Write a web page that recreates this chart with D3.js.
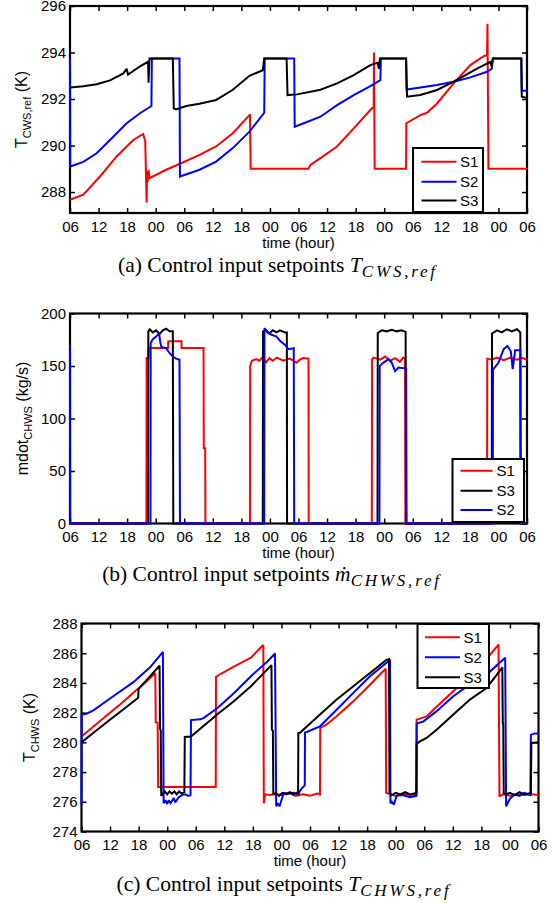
<!DOCTYPE html>
<html>
<head>
<meta charset="utf-8">
<script src="https://cdn.jsdelivr.net/npm/d3@7"></script>
<style>
  body { margin: 0; background: #fff; }
  svg text { font-family: "Liberation Sans", Arial, Helvetica, sans-serif; }
  svg text.cap { font-family: "Liberation Serif", "Times New Roman", serif; }
</style>
</head>
<body>
<svg id="fig" width="553" height="903"></svg>
<script>
// hours since 06:00 on day 1, and the clock labels matlab printed
const tickHours = [0, 6, 12, 18, 24, 30, 36, 42, 48, 54, 60, 66, 72, 78, 84, 90, 96];
const tickLabels = ['06','12','18','00','06','12','18','00','06','12','18','00','06','12','18','00','06'];

const cwsTicks = [288, 290, 292, 294, 296];
const mdotTicks = [0, 50, 100, 150, 200];
const chwsTicks = [274, 276, 278, 280, 282, 284, 286, 288];

// (a) T_CWS,ref  [hour, K]
const cwsS1 = [[0,287.67],[2.8,287.89],[6.3,288.67],[9.8,289.53],[13.3,290.24],[15.35,290.5],[15.8,290.2],[16.0,288.4],
  [16.1,287.55],[16.2,288.9],[16.35,288.45],[16.5,288.95],[16.7,288.6],[20.2,288.96],[23.7,289.27],[27.2,289.6],
  [30.7,289.96],[34.2,290.53],[37.7,291.31],[37.8,291.35],[37.95,289.0],[50.1,289.0],[50.5,289.17],[52.6,289.46],
  [56.1,289.96],[59.6,290.74],[63.1,291.53],[63.8,291.67],[63.85,294.0],[64.0,289.0],[70.6,289.0],[70.65,290.96],
  [73.6,291.31],[75.0,291.41],[77.1,291.81],[80.6,292.67],[84.1,293.46],[86.9,293.84],[87.6,293.89],[87.7,295.24],
  [87.9,289.0],[96,289.0]];
const cwsS2 = [[0,293.74],[0.05,289.1],[2.8,289.3],[5.6,289.67],[8.4,290.24],[11.9,290.96],[14.7,291.39],[17.1,291.7],
  [17.2,293.74],[23.0,293.74],[23.1,288.67],[27.2,288.96],[30.7,289.31],[34.2,289.89],[37.7,290.6],[40.8,291.41],
  [40.9,293.74],[47.1,293.74],[47.2,290.81],[49.1,290.96],[52.6,291.24],[56.1,291.74],[59.6,292.17],[63.1,292.56],
  [65.2,292.81],[65.3,293.74],[70.6,293.74],[70.7,292.41],[73.6,292.5],[77.1,292.6],[80.6,292.74],[84.1,292.93],
  [87.6,293.17],[88.6,293.31],[88.8,293.74],[94.8,293.74],[94.9,292.36],[96,292.36]];
const cwsS3 = [[0,292.5],[2.8,292.55],[5.6,292.64],[8.4,292.8],[11.2,293.1],[11.9,293.3],[12.2,293.05],[12.9,293.15],
  [14.7,293.4],[16.4,293.6],[16.5,292.7],[16.7,293.74],[21.6,293.74],[21.8,291.6],[22.3,291.55],[24.4,291.7],
  [27.2,291.8],[30.7,291.96],[34.2,292.4],[37.7,293.0],[40.5,293.24],[40.8,293.74],[45.5,293.74],[45.7,292.17],
  [47.7,292.2],[52.6,292.4],[56.1,292.67],[59.6,293.03],[63.1,293.46],[64.6,293.56],[64.9,293.3],[65.1,293.74],
  [70.6,293.74],[70.8,292.1],[73.6,292.17],[77.1,292.39],[79.9,292.67],[82.7,292.99],[85.5,293.31],[88.3,293.6],
  [88.6,293.4],[88.85,293.74],[94.8,293.74],[94.9,292.1],[96,292.05]];

// (b) mdot_CHWS  [hour, kg/s]
const mS1 = [[0,0],[16.05,0],[16.1,157.7],[16.5,157.7],[16.55,167.2],[20.6,167.2],[20.65,173.6],[23.4,173.6],
  [23.45,167.2],[28.05,167.2],[28.1,71.7],[28.4,71.7],[28.45,0],[37.8,0],[37.85,149.7],[38.2,155],[39.1,156.5],
  [39.8,155],[40.5,158.5],[41.2,153.5],[41.9,157.5],[42.6,155],[43.4,158],[44.8,155],[46.2,157],[47.6,153],
  [48.3,156],[49.0,157.5],[50.1,157],[50.15,0],[63.4,0],[63.45,156],[63.8,158],[65.2,156],[66.2,159],[67.3,155],
  [68.3,157.5],[69.3,154],[70.0,158],[70.4,157],[70.45,0],[87.6,0],[87.65,157],[88.6,156],[89.7,158],[91.1,155.5],
  [92.5,158],[93.9,156],[95.0,157.5],[96,156]];
const mS3 = [[0,0],[16.4,0],[16.45,183],[16.75,185],[17.4,182],[18.1,184],[18.8,180.5],[19.5,184],[20.2,185.5],
  [20.9,183],[21.6,183],[21.7,0],[40.5,0],[40.55,183],[41.2,184],[41.9,181],[42.6,184],[43.4,182],[44.1,184],
  [45.2,182],[45.55,182],[45.6,0],[64.6,0],[64.65,181.5],[65.5,184],[66.5,183],[67.6,184.5],[68.6,183],[69.6,184],
  [70.5,182.5],[70.6,0],[88.6,0],[88.65,181],[89.7,184],[90.7,182],[91.8,185],[92.8,183],[93.9,185],[94.6,182],
  [94.65,0],[96,0]];
const mS2 = [[0,170],[0.05,0],[16.9,0],[16.95,172],[17.4,175.5],[18.1,178],[18.7,181],[19.0,172],[19.2,168],
  [20.2,167],[20.9,162.5],[21.6,159],[22.3,157],[23.0,156],[23.1,0],[40.8,0],[40.85,186],[41.5,182],[42.2,180],
  [43.4,178],[44.1,174],[45.2,170],[45.9,166],[47.0,167],[47.1,0],[65.0,0],[65.05,150],[65.8,153],[66.9,156.5],
  [67.6,153],[68.3,145],[69.0,148.5],[70.6,147.5],[70.7,0],[88.8,0],[88.85,146.5],[90.0,153],[91.1,166],[91.9,169],
  [92.6,164],[93.0,147],[93.5,165],[94.6,165],[94.7,0],[96,0]];

// (c) T_CHWS  [hour, K]
const cS1 = [[0,280.4],[2.45,281.05],[8.4,282.63],[11.5,283.5],[13.3,284.0],[15.5,284.67],[15.6,281.35],[16.0,281.3],
  [16.1,277.0],[28.2,277.0],[28.25,284.4],[29.2,284.6],[32.0,285.1],[35.6,285.7],[38.0,286.5],[38.2,286.55],
  [38.3,275.9],[38.6,276.5],[39.5,276.45],[40.5,276.5],[42.0,276.45],[43.5,276.6],[45.0,276.4],[46.5,276.5],
  [48.0,276.4],[49.5,276.55],[50.1,276.5],[50.15,280.97],[51.5,281.2],[53.6,281.75],[57.1,282.76],[60.6,283.88],
  [63.4,284.8],[63.9,284.95],[64.0,276.6],[64.5,276.55],[66,276.4],[67.5,276.55],[69,276.45],[70.35,276.5],
  [70.4,281.53],[72.5,281.75],[74.6,282.4],[78.1,283.44],[81.6,284.5],[85.1,285.6],[87.25,286.45],[87.6,286.58],
  [87.8,276.36],[88.5,276.5],[90,276.4],[91.5,276.5],[93,276.45],[94.5,276.5],[96,276.45]];
const cS2 = [[0,275.8],[0.05,281.87],[1.05,281.93],[2.5,282.15],[6.0,282.95],[10.9,284.05],[14.4,285.05],[16.9,286.0],
  [17.1,286.1],[17.25,275.9],[17.6,276.1],[18.0,275.85],[18.3,276.1],[18.7,275.9],[19.4,276.25],[19.7,275.95],
  [20.4,276.3],[21.1,276.45],[21.8,276.5],[22.5,276.4],[22.9,276.45],[23.0,281.5],[25.0,281.55],[25.7,281.65],
  [28.5,282.3],[32.0,283.3],[35.6,284.45],[39.1,285.46],[40.65,285.98],[40.9,275.7],[41.2,275.9],[41.6,275.7],
  [42.0,276.1],[42.5,276.6],[43.5,276.55],[44.5,276.6],[45.5,276.5],[46.25,276.9],[46.9,277.1],[46.95,280.67],
  [47.3,280.7],[50.1,281.08],[53.6,282.2],[57.1,283.33],[60.6,284.45],[64.5,285.46],[64.8,285.5],[64.9,275.9],
  [65.2,276.0],[65.6,275.8],[66.2,276.4],[67.5,276.45],[69,276.3],[70.35,276.4],[70.4,281.26],[71.8,281.4],
  [74.6,282.1],[78.1,283.1],[81.6,283.9],[85.1,284.56],[89.0,285.7],[89.2,275.7],[89.5,275.9],[90,276.2],[91,276.5],
  [92,276.4],[93,276.6],[94.3,276.45],[94.4,280.5],[95.2,280.6],[96,280.6]];
const cS3 = [[0,280.0],[2.45,280.63],[5.5,281.4],[8.7,282.2],[11.9,283.0],[12.0,283.6],[14.0,284.3],[16.4,285.17],
  [16.5,280.9],[16.65,280.8],[16.75,276.4],[17.0,276.5],[17.5,276.7],[18.0,276.5],[18.5,276.7],[19.0,276.55],
  [19.5,276.7],[20.0,276.5],[20.5,276.7],[21.0,276.55],[21.6,276.65],[21.7,280.36],[23.0,280.4],[28.5,281.87],
  [32.0,282.76],[35.6,283.78],[39.9,285.2],[40.0,280.85],[40.2,280.8],[40.3,276.5],[40.8,276.6],[41.5,276.4],
  [42.2,276.6],[43.0,276.5],[43.8,276.65],[44.5,276.5],[45.2,276.6],[45.5,276.55],[45.55,280.63],[45.9,280.65],
  [50.1,281.87],[53.6,282.88],[57.1,283.78],[60.6,284.67],[64.1,285.57],[64.6,285.6],[64.7,276.6],[65.2,276.45],
  [66,276.6],[67,276.5],[68,276.65],[69,276.5],[70.35,276.6],[70.4,279.9],[71.0,280.05],[72.5,280.3],[74.6,280.85],
  [78.1,281.87],[81.6,282.88],[85.1,283.66],[88.3,285.0],[88.4,285.05],[88.5,281.3],[88.6,281.2],[88.7,276.6],
  [89.2,276.5],[90,276.6],[91,276.45],[92,276.65],[93,276.5],[94.4,276.6],[94.5,279.96],[96,280.0]];

const yLabels = [['T', 'CWS,ref', ' (K)'], ['mdot', 'CHWS', ' (kg/s)'], ['T', 'CHWS', ' (K)']];
const captionTags = ['a', 'b', 'c'];
const captionSyms = [['T', 'CWS,ref'], ['\u1E41', 'CHWS,ref'], ['T', 'CHWS,ref']];

const RED = '#ff0000', BLUE = '#0000ff', BLACK = '#000000';

const panels = [
  { left: 70, right: 527, top: 6, bottom: 213, yDomain: [287.1, 296], yTicks: cwsTicks,
    xPad: 8.3, xLabelY: 248, yLabelX: 27,
    series: [{ name: 'S1', data: cwsS1, color: RED }, { name: 'S2', data: cwsS2, color: BLUE }, { name: 'S3', data: cwsS3, color: BLACK }],
    legend: { x: 413, y: 148, w: 70, h: 64, x0: 421.5, x1: 456.5, tx: 460, rows: [161.7, 181.7, 200.5] },
    cap: { x: 278, y: 272 } },
  { left: 70, right: 527, top: 313.5, bottom: 523.5, yDomain: [0, 200], yTicks: mdotTicks,
    xPad: 7.5, xLabelY: 558, yLabelX: 28,
    series: [{ name: 'S1', data: mS1, color: RED }, { name: 'S3', data: mS3, color: BLACK }, { name: 'S2', data: mS2, color: BLUE }],
    legend: { x: 452.5, y: 459, w: 71.5, h: 63, x0: 460.5, x1: 492.5, tx: 496.5, rows: [470.7, 490.7, 510] },
    cap: { x: 272, y: 581 } },
  { left: 81.5, right: 538.5, top: 623.5, bottom: 831.5, yDomain: [274, 288], yTicks: chwsTicks,
    xPad: 8, xLabelY: 866, yLabelX: 35,
    series: [{ name: 'S1', data: cS1, color: RED }, { name: 'S2', data: cS2, color: BLUE }, { name: 'S3', data: cS3, color: BLACK }],
    legend: { x: 417.5, y: 624, w: 71.5, h: 64, x0: 425, x1: 460, tx: 463.5, rows: [637.3, 657.3, 677.3] },
    cap: { x: 284, y: 891 } }
];

const svg = d3.select('#fig');

function styleAxis(sel) {
  sel.select('.domain').remove();
  sel.selectAll('line').attr('stroke', '#000').attr('stroke-width', 1.5);
  sel.selectAll('text').attr('fill', '#000');
  sel.attr('font-size', 15).attr('font-family', '"Liberation Sans", Arial, sans-serif');
}

function drawPanel(p, i) {
  const x = d3.scaleLinear().domain([0, 96]).range([p.left, p.right]);
  const y = d3.scaleLinear().domain(p.yDomain).range([p.bottom, p.top]);
  const g = svg.append('g');

  // inward ticks on all four sides, like matlab's box on
  g.append('g').attr('transform', `translate(0,${p.bottom})`)
    .call(d3.axisBottom(x).tickValues(tickHours).tickFormat((d, k) => tickLabels[k])
      .tickSizeInner(-5).tickSizeOuter(0).tickPadding(p.xPad))
    .call(styleAxis);
  g.append('g').attr('transform', `translate(0,${p.top})`)
    .call(d3.axisTop(x).tickValues(tickHours).tickFormat('').tickSizeInner(-5).tickSizeOuter(0))
    .call(styleAxis);
  g.append('g').attr('transform', `translate(${p.left},0)`)
    .call(d3.axisLeft(y).tickValues(p.yTicks).tickFormat(d3.format('d')).tickSizeInner(-5).tickSizeOuter(0).tickPadding(4))
    .call(styleAxis);
  g.append('g').attr('transform', `translate(${p.right},0)`)
    .call(d3.axisRight(y).tickValues(p.yTicks).tickFormat('').tickSizeInner(-5).tickSizeOuter(0))
    .call(styleAxis);

  g.append('rect')
    .attr('x', p.left).attr('y', p.top)
    .attr('width', p.right - p.left).attr('height', p.bottom - p.top)
    .attr('fill', 'none').attr('stroke', '#000').attr('stroke-width', 2.2);

  const line = d3.line().x(d => x(d[0])).y(d => y(d[1]));
  p.series.forEach(s => {
    g.append('path').datum(s.data)
      .attr('d', line)
      .attr('fill', 'none')
      .attr('stroke', s.color)
      .attr('stroke-width', 2)
      .attr('stroke-linejoin', 'miter')
      .attr('stroke-miterlimit', 2);
  });

  // x label
  g.append('text')
    .attr('x', (p.left + p.right) / 2).attr('y', p.xLabelY)
    .attr('text-anchor', 'middle').attr('font-size', 15)
    .text('time (hour)');

  // y label with subscript
  const lab = yLabels[i];
  const yl = g.append('text')
    .attr('transform', `translate(${p.yLabelX},${(p.top + p.bottom) / 2}) rotate(-90)`)
    .attr('text-anchor', 'middle').attr('font-size', 16);
  yl.append('tspan').text(lab[0]);
  yl.append('tspan').attr('font-size', 11).attr('dy', 4).text(lab[1]);
  yl.append('tspan').attr('dy', -4).text(lab[2]);

  // legend
  const L = p.legend;
  const lg = g.append('g');
  lg.append('rect')
    .attr('x', L.x).attr('y', L.y).attr('width', L.w).attr('height', L.h)
    .attr('fill', '#fff').attr('stroke', '#000').attr('stroke-width', 2);
  p.series.forEach((s, k) => {
    lg.append('line')
      .attr('x1', L.x0).attr('x2', L.x1).attr('y1', L.rows[k]).attr('y2', L.rows[k])
      .attr('stroke', s.color).attr('stroke-width', 2);
    lg.append('text')
      .attr('x', L.tx).attr('y', L.rows[k]).attr('dy', '0.36em')
      .attr('font-size', 15).text(s.name);
  });

  // caption underneath
  const c = svg.append('text').attr('class', 'cap')
    .attr('x', p.cap.x).attr('y', p.cap.y)
    .attr('text-anchor', 'middle').attr('font-size', 21.5);
  c.append('tspan').text(`(${captionTags[i]}) Control input setpoints `);
  c.append('tspan').attr('font-style', 'italic').text(captionSyms[i][0]);
  c.append('tspan').attr('font-style', 'italic').attr('font-size', 17)
    .attr('dy', 5).attr('letter-spacing', 2.8).text(captionSyms[i][1]);
}

panels.forEach(drawPanel);
</script>
</body>
</html>
